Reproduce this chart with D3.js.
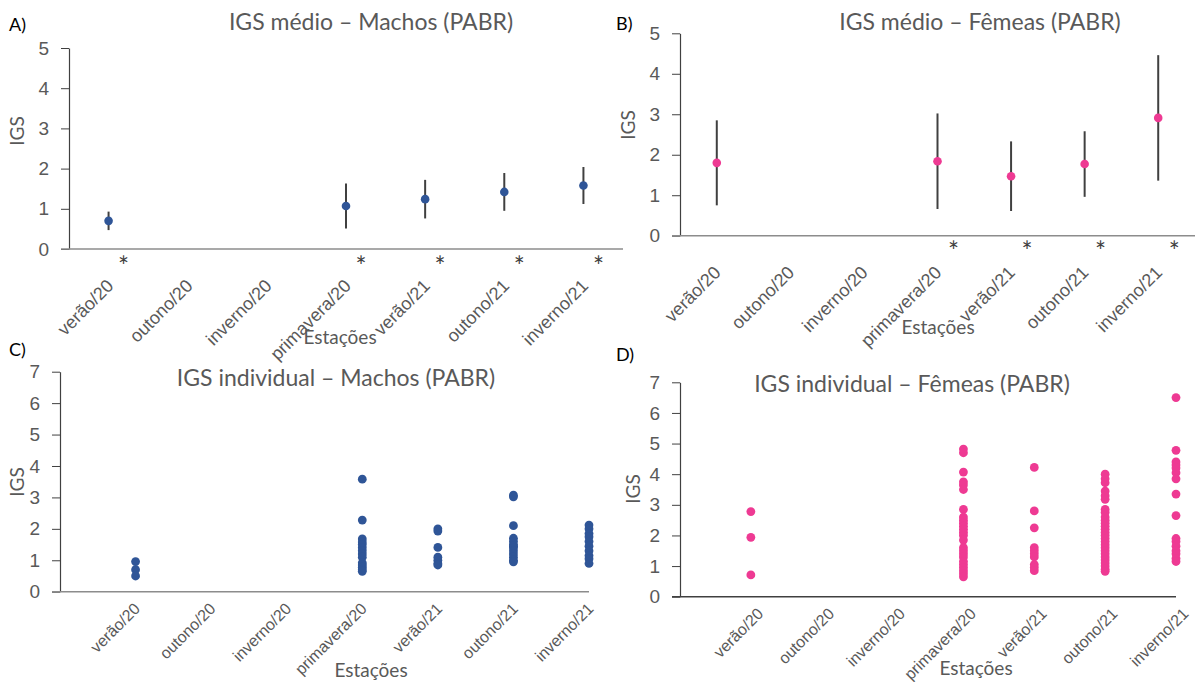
<!DOCTYPE html>
<html>
<head>
<meta charset="utf-8">
<script src="https://cdn.jsdelivr.net/npm/d3@7"></script>
<style>
body { margin: 0; background: #fff; }
svg { display: block; font-family: Lato, "Open Sans", sans-serif; }
.tick text { fill: #595959; }
</style>
</head>
<body>
<svg width="1195" height="682"></svg>
<script>
// estações (eixo x de todos os painéis)
var categorias = ["verão/20", "outono/20", "inverno/20", "primavera/20", "verão/21", "outono/21", "inverno/21"];

// IGS médio (+- desvio)
var mediaMachos = [0.70, null, null, 1.07, 1.24, 1.42, 1.58];
var desvioMachos = [0.23, null, null, 0.56, 0.48, 0.47, 0.46];
var asteriscoMachos = [true, false, false, true, true, true, true];

var mediaFemeas = [1.80, null, null, 1.84, 1.47, 1.77, 2.91];
var desvioFemeas = [1.05, null, null, 1.18, 0.86, 0.81, 1.55];
var asteriscoFemeas = [false, false, false, true, true, true, true];

// IGS individual
var individuaisMachos = [
  [0.96, 0.70, 0.50],
  [],
  [],
  [3.58, 2.28, 1.68, 1.58, 1.50, 1.40, 1.30, 1.20, 1.10, 0.92, 0.85, 0.78, 0.70, 0.65],
  [2.00, 1.93, 1.41, 1.10, 1.00, 0.90, 0.85],
  [3.07, 3.02, 2.10, 1.70, 1.60, 1.50, 1.45, 1.40, 1.30, 1.20, 1.10, 1.00, 0.95],
  [2.12, 2.00, 1.85, 1.75, 1.60, 1.45, 1.30, 1.15, 1.05, 0.90]
];
var individuaisFemeas = [
  [2.78, 1.94, 0.71],
  [],
  [],
  [4.82, 4.70, 4.07, 3.75, 3.65, 3.50, 2.85, 2.60, 2.50, 2.40, 2.30, 2.20, 2.10, 2.00, 1.85, 1.60, 1.50, 1.40, 1.30, 1.15, 1.05, 0.95, 0.85, 0.75, 0.65],
  [4.22, 2.80, 2.25, 1.60, 1.50, 1.40, 1.30, 1.05, 0.95, 0.85],
  [4.00, 3.85, 3.72, 3.45, 3.30, 3.18, 2.85, 2.75, 2.60, 2.50, 2.40, 2.30, 2.20, 2.10, 2.00, 1.90, 1.80, 1.70, 1.60, 1.50, 1.40, 1.30, 1.20, 1.10, 1.00, 0.90, 0.83],
  [6.50, 4.78, 4.40, 4.30, 4.20, 4.05, 3.85, 3.35, 2.65, 1.90, 1.80, 1.65, 1.50, 1.40, 1.25, 1.15]
];

var ticksMedio = [0, 1, 2, 3, 4, 5];
var ticksIndividual = [0, 1, 2, 3, 4, 5, 6, 7];

var azul = "#2f5597";
var rosa = "#ee3a93";
var cinza = "#595959";

var svg = d3.select("svg");

// eixos comuns
function eixos(g, x, y, p) {
  var yAxis = d3.axisLeft(y).tickValues(p.ticks).tickFormat(d3.format("d"))
    .tickSize(8).tickSizeOuter(0).tickPadding(12);
  var yG = g.append("g").attr("transform", "translate(" + p.x0 + ",0)").call(yAxis);
  yG.select(".domain").attr("stroke", "#404040").attr("stroke-width", 1.2);
  yG.selectAll(".tick line").attr("stroke", "#404040");
  yG.selectAll(".tick text").style("font-size", "19px");

  g.append("line")
    .attr("x1", p.x0 - 8).attr("x2", p.x1)
    .attr("y1", y(0)).attr("y2", y(0))
    .attr("stroke", p.xCor).attr("stroke-width", 1.6);

  var xAxis = d3.axisBottom(x).tickSize(0).tickFormat(function(d, i) { return categorias[i]; });
  if (x.bandwidth === undefined) xAxis.tickValues([1, 2, 3, 4, 5, 6, 7]);
  var xG = g.append("g").attr("transform", "translate(0," + y(0) + ")").call(xAxis);
  xG.select(".domain").remove();
  xG.selectAll(".tick text")
    .style("font-size", p.lblFonte)
    .attr("x", 0).attr("y", 0).attr("dy", 0)
    .attr("text-anchor", "end")
    .attr("transform", "translate(" + p.lblDx + "," + p.lblDy + ") rotate(-45)");

  // rótulos
  g.append("text").attr("x", p.letraX).attr("y", p.letraY)
    .style("font-size", "18px").attr("fill", "#000").text(p.letra);
  g.append("text").attr("x", p.tituloX).attr("y", p.tituloY)
    .attr("text-anchor", "middle").style("font-size", "23px").attr("fill", cinza).text(p.titulo);
  g.append("text").attr("transform", "translate(" + p.igsX + "," + p.igsY + ") rotate(-90)")
    .attr("text-anchor", "middle").attr("dy", "0.35em").style("font-size", "19px").attr("fill", cinza).text("IGS");
  g.append("text").attr("x", p.estX).attr("y", p.estY)
    .attr("text-anchor", "middle").style("font-size", "19px").attr("fill", cinza).text("Estações");
}

// painéis de média (A e B)
function painelMedio(p, media, desvio, asterisco, cor) {
  var g = svg.append("g");
  var x = d3.scaleBand().domain(categorias).range([p.x0, p.x1]);
  var y = d3.scaleLinear().domain([0, 5]).range([p.yBase, p.yTopo]);
  p.ticks = ticksMedio;
  eixos(g, x, y, p);

  var dados = categorias.map(function(c, i) {
    return { cat: c, m: media[i], s: desvio[i], ast: asterisco[i] };
  });
  var cx = function(d) { return x(d.cat) + x.bandwidth() / 2; };

  g.selectAll(".erro").data(dados.filter(function(d) { return d.m !== null; }))
    .enter().append("line")
    .attr("x1", cx).attr("x2", cx)
    .attr("y1", function(d) { return y(d.m - d.s); })
    .attr("y2", function(d) { return y(d.m + d.s); })
    .attr("stroke", "#404040").attr("stroke-width", 2);

  g.selectAll(".media").data(dados.filter(function(d) { return d.m !== null; }))
    .enter().append("circle")
    .attr("cx", cx).attr("cy", function(d) { return y(d.m); })
    .attr("r", 4.3).attr("fill", cor);

  g.selectAll(".ast").data(dados.filter(function(d) { return d.ast; }))
    .enter().append("text")
    .attr("x", function(d) { return cx(d) + p.astDx; })
    .attr("y", y(0) + p.astDy)
    .attr("text-anchor", "middle").style("font-size", "26px").attr("fill", "#404040")
    .text("*");
}

// painéis individuais (C e D)
function painelIndividual(p, valores, cor) {
  var g = svg.append("g");
  var x = d3.scaleLinear().domain([0, 7]).range([p.x0, p.x1]);
  var y = d3.scaleLinear().domain([0, 7]).range([p.yBase, p.yTopo]);
  p.ticks = ticksIndividual;
  eixos(g, x, y, p);

  var pontos = [];
  valores.forEach(function(v, i) {
    v.forEach(function(val) { pontos.push({ i: i + 1, v: val }); });
  });
  g.selectAll(".pt").data(pontos).enter().append("circle")
    .attr("cx", function(d) { return x(d.i); })
    .attr("cy", function(d) { return y(d.v); })
    .attr("r", 4.4).attr("fill", cor);
}

painelMedio({
  x0: 69, x1: 623, yBase: 249, yTopo: 48, xCor: "#8c8c8c",
  lblDx: 6, lblDy: 38, lblFonte: "18px", astDx: 15, astDy: 27,
  letra: "A)", letraX: 9, letraY: 31,
  titulo: "IGS médio – Machos (PABR)", tituloX: 371, tituloY: 30,
  igsX: 17, igsY: 131, estX: 340, estY: 344
}, mediaMachos, desvioMachos, asteriscoMachos, azul);

painelMedio({
  x0: 680, x1: 1195, yBase: 235.7, yTopo: 33.3, xCor: "#8c8c8c",
  lblDx: 5, lblDy: 38, lblFonte: "18px", astDx: 16, astDy: 25,
  letra: "B)", letraX: 616, letraY: 30,
  titulo: "IGS médio – Fêmeas (PABR)", tituloX: 980, tituloY: 30,
  igsX: 628, igsY: 125, estX: 938, estY: 334
}, mediaFemeas, desvioFemeas, asteriscoFemeas, rosa);

painelIndividual({
  x0: 60, x1: 589, yBase: 591.7, yTopo: 371.7, xCor: "#8c8c8c",
  lblDx: 5, lblDy: 18, lblFonte: "16px",
  letra: "C)", letraX: 9, letraY: 356,
  titulo: "IGS individual – Machos (PABR)", tituloX: 336, tituloY: 386,
  igsX: 17, igsY: 482, estX: 371, estY: 677
}, individuaisMachos, azul);

painelIndividual({
  x0: 680, x1: 1176, yBase: 596.7, yTopo: 382.3, xCor: "#404040",
  lblDx: 13, lblDy: 18, lblFonte: "16px",
  letra: "D)", letraX: 616, letraY: 361,
  titulo: "IGS individual – Fêmeas (PABR)", tituloX: 912, tituloY: 392,
  igsX: 633, igsY: 489, estX: 976, estY: 675
}, individuaisFemeas, rosa);
</script>
</body>
</html>
